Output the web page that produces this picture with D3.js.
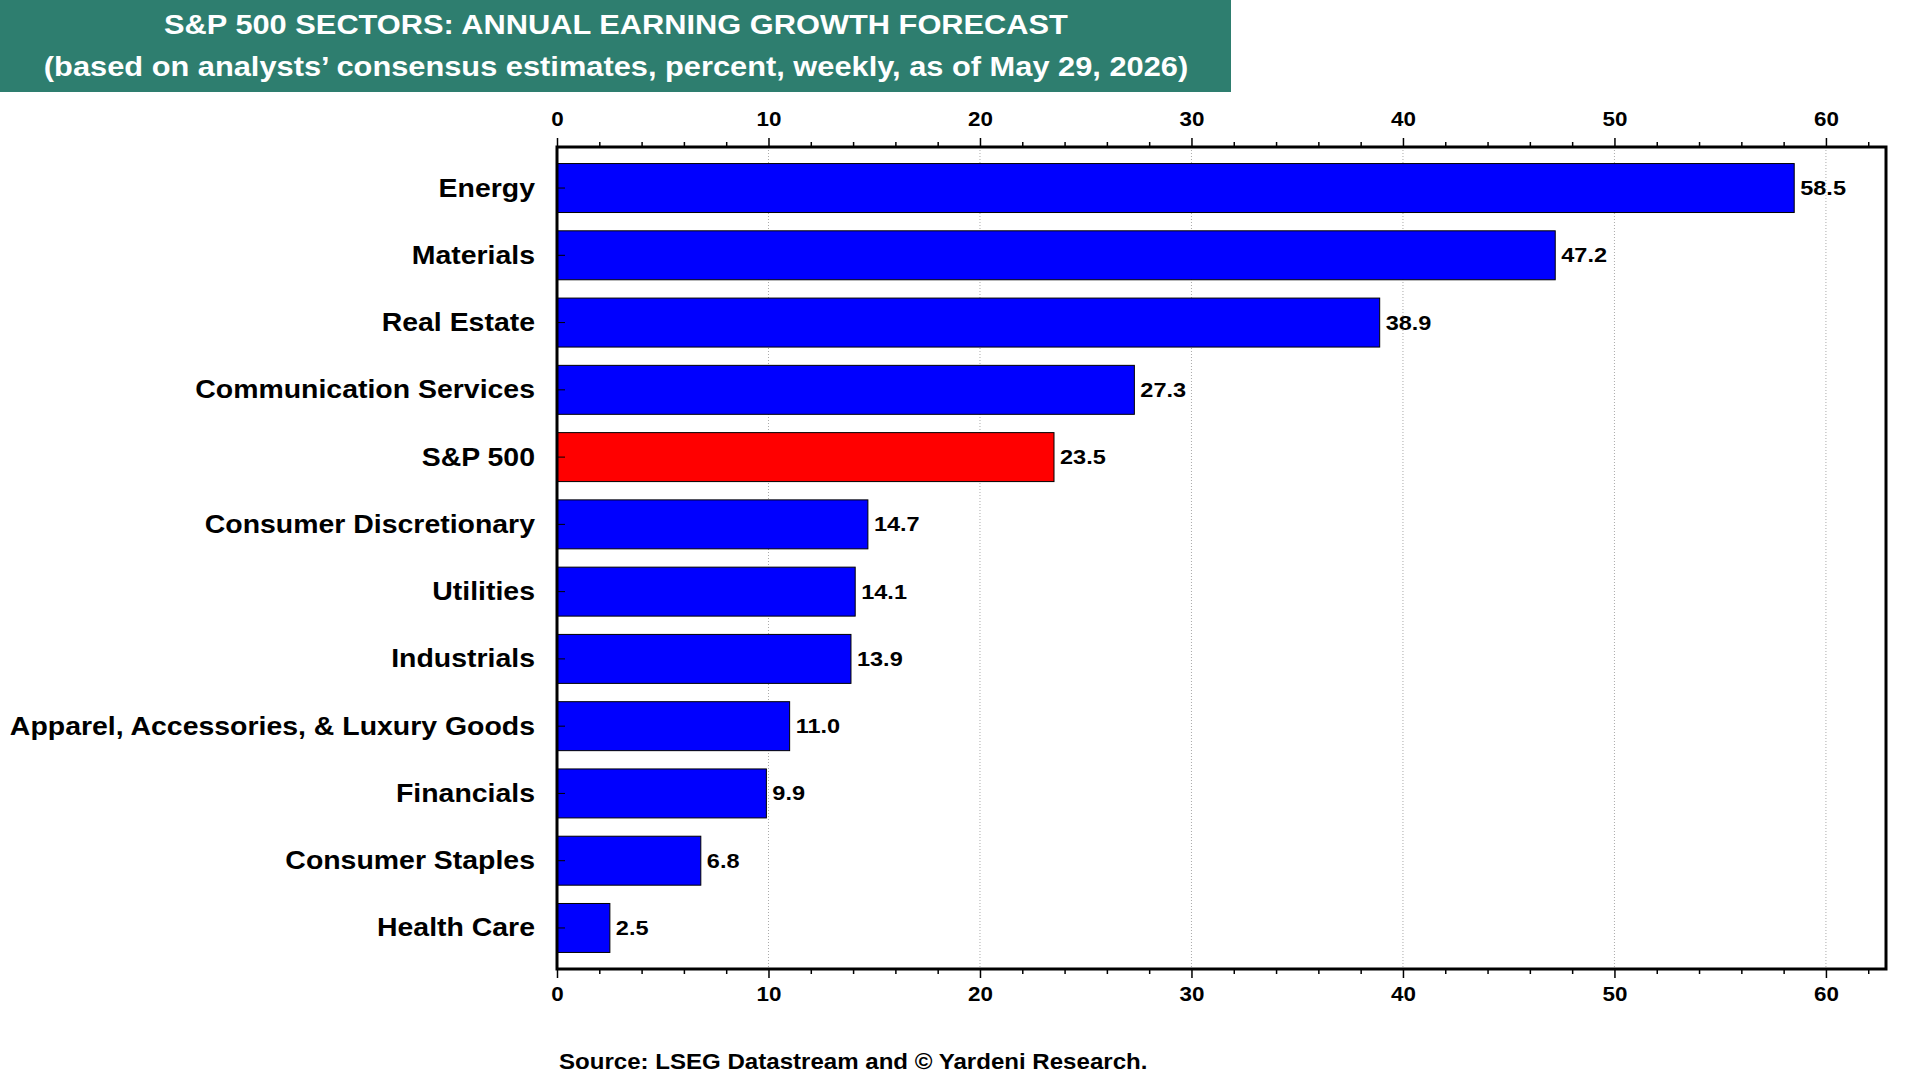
<!DOCTYPE html>
<html>
<head>
<meta charset="utf-8">
<script src="https://cdn.jsdelivr.net/npm/d3@7"></script>
<style>
body { margin: 0; background: #fff; }
text { font-family: 'Liberation Sans', Arial, sans-serif; font-weight: bold; }
</style>
</head>
<body>
<div id="chart"></div>
<script>
const sectors = ['Energy', 'Materials', 'Real Estate', 'Communication Services', 'S&P 500',
    'Consumer Discretionary', 'Utilities', 'Industrials', 'Apparel, Accessories, & Luxury Goods',
    'Financials', 'Consumer Staples', 'Health Care'];
const growth = [58.5, 47.2, 38.9, 27.3, 23.5, 14.7, 14.1, 13.9, 11.0, 9.9, 6.8, 2.5];
const highlightSector = 'S&P 500';
const majorTicks = [0, 10, 20, 30, 40, 50, 60];
const titleLines = ['S&P 500 SECTORS: ANNUAL EARNING GROWTH FORECAST',
    '(based on analysts’ consensus estimates, percent, weekly, as of May 29, 2026)'];
const sourceNote = 'Source: LSEG Datastream and © Yardeni Research.';

const width = 1920;
const height = 1080;
const plot = {left: 557, right: 1886, top: 147, bottom: 969};
// the original lettering is a little wider than it is tall
const stretch = 1.12;
const place = (px, py) => `translate(${px}, ${py}) scale(${stretch}, 1)`;

const svg = d3.select('#chart')
    .append('svg')
    .attr('width', width)
    .attr('height', height);

// title banner
svg.append('rect')
    .attr('x', 0)
    .attr('y', 0)
    .attr('width', 1231)
    .attr('height', 92)
    .attr('fill', '#2e7e6f');

svg.selectAll('.title')
    .data(titleLines)
    .enter()
    .append('text')
    .attr('class', 'title')
    .attr('transform', (d, i) => place(616, i === 0 ? 25 : 67))
    .attr('text-anchor', 'middle')
    .attr('dominant-baseline', 'central')
    .attr('fill', '#fff')
    .attr('font-size', 27.5)
    .text(d => d);

const data = sectors.map((s, i) => ({sector: s, value: growth[i]}));

const x = d3.scaleLinear()
    .domain([0, 62.84])
    .range([plot.left, plot.right]);

const y = d3.scaleBand()
    .domain(sectors)
    .range([plot.top, plot.bottom])
    .paddingInner(0.272)
    .paddingOuter(0.246);

// dotted grid
svg.append('g')
    .selectAll('line')
    .data(majorTicks.slice(1))
    .enter()
    .append('line')
    .attr('x1', d => x(d))
    .attr('x2', d => x(d))
    .attr('y1', plot.top)
    .attr('y2', plot.bottom)
    .attr('stroke', '#aaa')
    .attr('stroke-width', 1)
    .attr('stroke-dasharray', '1,2');

// bars
svg.append('g')
    .selectAll('rect')
    .data(data)
    .enter()
    .append('rect')
    .attr('x', x(0))
    .attr('y', d => y(d.sector))
    .attr('width', d => x(d.value) - x(0))
    .attr('height', y.bandwidth())
    .attr('fill', d => d.sector === highlightSector ? '#ff0000' : '#0000ff')
    .attr('stroke', '#000')
    .attr('stroke-width', 1);

// value labels
svg.append('g')
    .selectAll('text')
    .data(data)
    .enter()
    .append('text')
    .attr('transform', d => place(x(d.value) + 6, y(d.sector) + y.bandwidth() / 2))
    .attr('dominant-baseline', 'central')
    .attr('font-size', 21)
    .text(d => d3.format('.1f')(d.value));

// category labels
svg.append('g')
    .selectAll('text')
    .data(sectors)
    .enter()
    .append('text')
    .attr('transform', d => place(plot.left - 22, y(d) + y.bandwidth() / 2))
    .attr('text-anchor', 'end')
    .attr('dominant-baseline', 'central')
    .attr('font-size', 25.4)
    .text(d => d);

// axes
const minorTicks = d3.range(0, 63, 2).filter(d => d % 10 !== 0);

function styleAxis(g, labelY) {
    g.select('.domain').remove();
    g.selectAll('line').attr('stroke', '#000').attr('stroke-width', 1.5);
    g.selectAll('text')
        .attr('y', labelY)
        .attr('dy', '0.35em')
        .attr('transform', `scale(${stretch}, 1)`)
        .attr('font-size', 20)
        .attr('font-family', null)
        .attr('fill', '#000');
}

svg.append('g')
    .attr('transform', `translate(0, ${plot.top})`)
    .call(d3.axisTop(x).tickValues(minorTicks).tickSize(5).tickFormat(''))
    .call(g => styleAxis(g, 0));

svg.append('g')
    .attr('transform', `translate(0, ${plot.top})`)
    .call(d3.axisTop(x).tickValues(majorTicks).tickSize(9).tickFormat(d3.format('d')))
    .call(g => styleAxis(g, -28));

svg.append('g')
    .attr('transform', `translate(0, ${plot.bottom})`)
    .call(d3.axisBottom(x).tickValues(minorTicks).tickSize(5).tickFormat(''))
    .call(g => styleAxis(g, 0));

svg.append('g')
    .attr('transform', `translate(0, ${plot.bottom})`)
    .call(d3.axisBottom(x).tickValues(majorTicks).tickSize(9).tickFormat(d3.format('d')))
    .call(g => styleAxis(g, 25));

// small inward ticks for the categories
svg.append('g')
    .attr('transform', `translate(${plot.left}, 0)`)
    .call(d3.axisRight(y).tickSize(8).tickFormat(''))
    .call(g => g.select('.domain').remove())
    .call(g => g.selectAll('line').attr('stroke', '#000').attr('stroke-width', 1));

// frame
svg.append('rect')
    .attr('x', plot.left)
    .attr('y', plot.top)
    .attr('width', plot.right - plot.left)
    .attr('height', plot.bottom - plot.top)
    .attr('fill', 'none')
    .attr('stroke', '#000')
    .attr('stroke-width', 3);

svg.append('text')
    .attr('transform', place(559, 1061))
    .attr('dominant-baseline', 'central')
    .attr('font-size', 21.5)
    .text(sourceNote);
</script>
</body>
</html>
